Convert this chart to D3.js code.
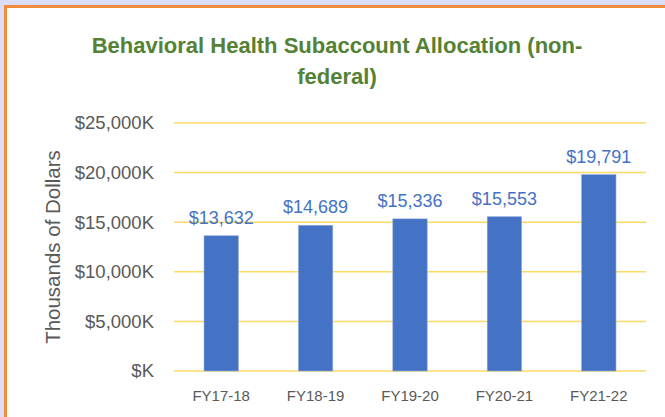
<!DOCTYPE html>
<html lang="en">
<head>
    <meta charset="UTF-8">
    <title>Behavioral Health Subaccount Allocation</title>
    <script src="https://d3js.org/d3.v7.min.js"></script>
    <style>
        body {
            margin: 0;
            padding: 0;
            background-color: #dcddf9;
        }

        svg {
            display: block;
            font-family: "Liberation Sans", Arial, sans-serif;
        }

        .grid line {
            stroke: #ffd966;
            stroke-width: 1.5px;
        }

        .tick-label, .cat-label, .axis-title {
            fill: #595959;
        }
    </style>
</head>

<body>
<svg id="canvas" width="665" height="417"></svg>

<script>
    // chart values
    let years = ["FY17-18", "FY18-19", "FY19-20", "FY20-21", "FY21-22"]
    let allocations = [13632, 14689, 15336, 15553, 19791]
    let yTicks = [0, 5000, 10000, 15000, 20000, 25000]
    let titleLines = ["Behavioral Health Subaccount Allocation (non-", "federal)"]

    let svg = d3.select('#canvas')

    // page frame: lavender edge, orange border, white card
    svg.append('rect')
        .attr('x', 0).attr('y', 0)
        .attr('width', 665).attr('height', 417)
        .attr('fill', '#dcddf9')
    svg.append('rect')
        .attr('x', 5.5).attr('y', 6.5)
        .attr('width', 700).attr('height', 450)
        .attr('fill', 'white')
        .attr('stroke', '#f08a3c')
        .attr('stroke-width', 3)

    let x = d3.scaleBand()
        .domain(years)
        .range([174, 646])
        .paddingInner(0.636)
        .paddingOuter(0.318)

    let y = d3.scaleLinear()
        .domain([0, 25000])
        .range([371, 123])

    // title
    svg.append('g')
        .selectAll('text')
        .data(titleLines)
        .enter()
        .append('text')
        .attr('x', 337)
        .attr('y', (d, i) => 53 + i * 31)
        .attr('text-anchor', 'middle')
        .attr('font-weight', 'bold')
        .attr('font-size', '22px')
        .attr('fill', '#548235')
        .text(d => d)

    // gridlines
    let grid = svg.append('g').attr('class', 'grid')
    grid.selectAll('line')
        .data(yTicks)
        .enter()
        .append('line')
        .attr('x1', 174)
        .attr('x2', 646)
        .attr('y1', d => y(d))
        .attr('y2', d => y(d))

    // y tick labels
    let fmt = d => '$' + (d === 0 ? '' : d3.format(',')(d)) + 'K'
    svg.append('g')
        .selectAll('text')
        .data(yTicks)
        .enter()
        .append('text')
        .attr('class', 'tick-label')
        .attr('x', 154)
        .attr('y', d => y(d))
        .attr('dy', '0.35em')
        .attr('text-anchor', 'end')
        .attr('font-size', '18.5px')
        .text(fmt)

    // axis title
    svg.append('text')
        .attr('class', 'axis-title')
        .attr('transform', 'translate(60,247) rotate(-90)')
        .attr('text-anchor', 'middle')
        .attr('font-size', '20.5px')
        .text('Thousands of Dollars')

    // bars
    svg.append('g')
        .selectAll('rect')
        .data(allocations)
        .enter()
        .append('rect')
        .attr('x', (d, i) => x(years[i]))
        .attr('y', d => y(d))
        .attr('width', x.bandwidth())
        .attr('height', d => y(0) - y(d))
        .attr('fill', '#4472c4')
        .attr('stroke', '#8eaadb')
        .attr('stroke-width', 0.6)

    // value labels
    svg.append('g')
        .selectAll('text')
        .data(allocations)
        .enter()
        .append('text')
        .attr('x', (d, i) => x(years[i]) + x.bandwidth() / 2)
        .attr('y', d => y(d) - 12)
        .attr('text-anchor', 'middle')
        .attr('font-size', '18px')
        .attr('fill', '#4472c4')
        .text(d => '$' + d3.format(',')(d))

    // category labels
    svg.append('g')
        .selectAll('text')
        .data(years)
        .enter()
        .append('text')
        .attr('class', 'cat-label')
        .attr('x', d => x(d) + x.bandwidth() / 2)
        .attr('y', 396)
        .attr('dy', '0.35em')
        .attr('text-anchor', 'middle')
        .attr('font-size', '15px')
        .text(d => d)
</script>
</body>
</html>
